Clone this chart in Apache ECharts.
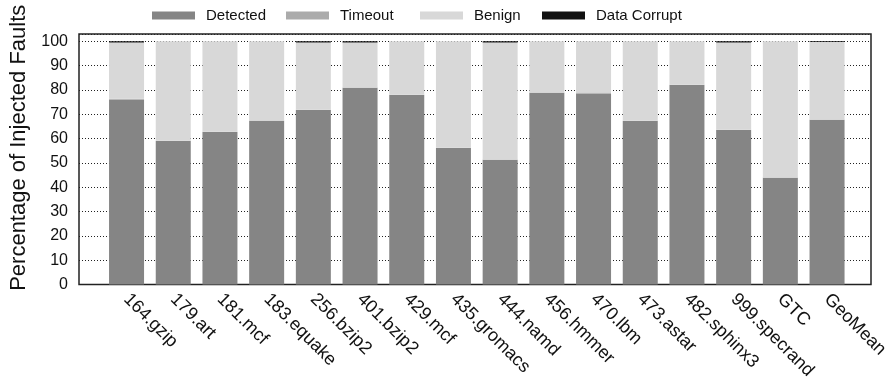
<!DOCTYPE html>
<html>
<head>
<meta charset="utf-8">
<script src="https://cdn.jsdelivr.net/npm/echarts@6/dist/echarts.min.js"></script>
<style>
  html, body { margin: 0; padding: 0; background: #fff; }
  #chart { width: 887px; height: 381px; }
</style>
</head>
<body>
<div id="chart"></div>
<script>
// Benchmarks on the x axis
const categories = ['164.gzip', '179.art', '181.mcf', '183.equake', '256.bzip2', '401.bzip2',
  '429.mcf', '435.gromacs', '444.namd', '456.hmmer', '470.lbm', '473.astar',
  '482.sphinx3', '999.specrand', 'GTC', 'GeoMean'];

// Outcome shares (percent of injected faults), stacked bottom to top
const detected = [76.0, 59.0, 62.7, 67.2, 71.8, 80.9, 77.9, 56.1, 51.2, 78.8, 78.5, 67.2, 82.0, 63.5, 43.9, 67.6];
const timeout  = [0.4, 0.1, 0.1, 0.2, 0.1, 0.1, 0.1, 0.1, 0.2, 0.1, 0.4, 0.1, 0.1, 0.1, 0.1, 0.2];
const benign   = [23.1, 40.9, 37.2, 32.6, 27.6, 18.5, 22.0, 43.8, 48.1, 21.1, 21.1, 32.7, 17.9, 35.9, 56.0, 31.9];
const corrupt  = [0.5, 0, 0, 0, 0.5, 0.5, 0, 0, 0.5, 0, 0, 0, 0, 0.5, 0, 0.3];

// Y axis ticks
const yTicks = [0, 10, 20, 30, 40, 50, 60, 70, 80, 90, 100];

const seriesNames = ['Detected', 'Timeout', 'Benign', 'Data Corrupt'];
const seriesColors = ['#858585', '#ababab', '#d8d8d8', '#111111'];
const seriesData = [detected, timeout, benign, corrupt];

const FONT = '"Liberation Sans", Arial, Helvetica, sans-serif';
const Y_MAX = 103;
const legendLeft = [152, 286, 420, 542];

const chart = echarts.init(document.getElementById('chart'), null, { renderer: 'canvas' });

const option = {
  backgroundColor: '#ffffff',
  animation: false,
  legend: seriesNames.map((n, i) => ({
    data: [n],
    left: legendLeft[i],
    top: 8,
    padding: 0,
    itemWidth: 43,
    itemHeight: 8,
    icon: 'rect',
    selectedMode: false,
    textStyle: { fontFamily: FONT, fontSize: 15, color: '#111', padding: [0, 0, 0, 6] }
  })),
  grid: [
    // frame + value scale
    { left: 79, right: 16, top: 34, bottom: 96.5, outerBoundsMode: 'none', containLabel: false,
      show: true, borderColor: '#222', borderWidth: 1.5, backgroundColor: 'transparent' },
    // bars
    { left: 103.2, right: 36.6, top: 34, bottom: 96.5, outerBoundsMode: 'none', containLabel: false }
  ],
  xAxis: [
    { gridIndex: 0, type: 'value', min: 0, max: 1, show: false },
    {
      gridIndex: 1, type: 'category', data: categories, boundaryGap: true,
      axisLine: { show: false }, axisTick: { show: false },
      axisLabel: { rotate: -45, margin: 12, interval: 0,
        fontFamily: FONT, fontSize: 18, color: '#111' }
    }
  ],
  yAxis: [
    {
      gridIndex: 0, type: 'value', min: 0, max: Y_MAX, interval: 10,
      name: 'Percentage of Injected Faults', nameLocation: 'middle', nameGap: 46,
      nameTextStyle: { fontFamily: FONT, fontSize: 22, color: '#111', padding: [0, 0, 0, 23] },
      axisLine: { show: false }, axisTick: { show: false },
      axisLabel: {
        margin: 11, fontFamily: FONT, fontSize: 16, color: '#111',
        formatter: v => (yTicks.indexOf(v) >= 0 ? String(v) : '')
      },
      splitLine: { show: true, lineStyle: { color: '#222', width: 1, type: [1, 2] } }
    },
    { gridIndex: 1, type: 'value', min: 0, max: Y_MAX, show: false, splitLine: { show: false } }
  ],
  series: seriesNames.map((n, i) => ({
    name: n,
    type: 'bar',
    stack: 'faults',
    xAxisIndex: 1,
    yAxisIndex: 1,
    barWidth: 35,
    itemStyle: { color: seriesColors[i] },
    data: seriesData[i]
  }))
};

chart.setOption(option);
</script>
</body>
</html>
